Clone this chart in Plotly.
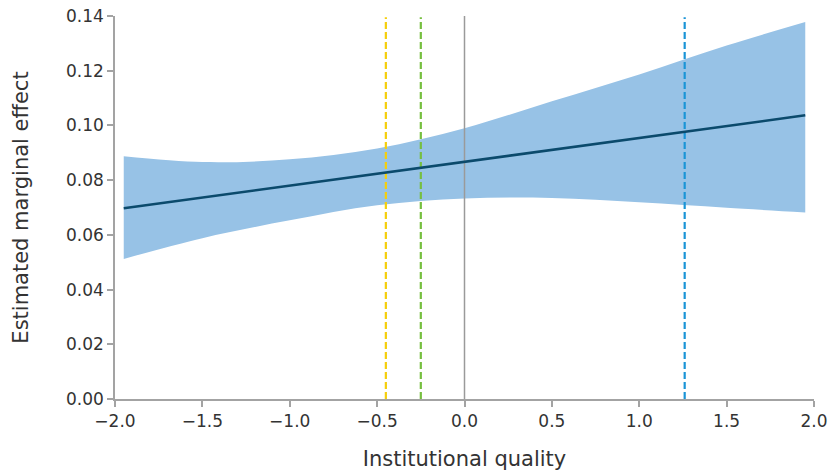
import plotly.graph_objects as go

# Data
x_pts = [-1.95, -1.5, -1.0, -0.5, 0.0, 0.5, 1.0, 1.5, 1.95]
upper = [0.0887, 0.0866, 0.0876, 0.0916, 0.0990, 0.1088, 0.1186, 0.1292, 0.1378]
lower = [0.0512, 0.0588, 0.0653, 0.0708, 0.0733, 0.0735, 0.0719, 0.0699, 0.0682]
effect_x = [-1.95, 1.95]
effect_y = [0.0697, 0.1037]

ref_x = [-0.45, -0.25, 1.26]
ref_colors = ["#f5cf0c", "#76bf3f", "#1a94d6"]
zero_x = 0.0

x_ticks = [-2.0, -1.5, -1.0, -0.5, 0.0, 0.5, 1.0, 1.5, 2.0]
x_tick_text = ["\u22122.0", "\u22121.5", "\u22121.0", "\u22120.5", "0.0", "0.5", "1.0", "1.5", "2.0"]
y_ticks = [0.0, 0.02, 0.04, 0.06, 0.08, 0.10, 0.12, 0.14]
y_tick_text = ["0.00", "0.02", "0.04", "0.06", "0.08", "0.10", "0.12", "0.14"]

FONT = "DejaVu Sans"
AX = "#a3a3a3"
TXT = "#333333"

fig = go.Figure()
fig.add_trace(go.Scatter(x=x_pts, y=lower, mode="lines", line=dict(width=0, shape="spline"),
                         hoverinfo="skip", showlegend=False))
fig.add_trace(go.Scatter(x=x_pts, y=upper, mode="lines", line=dict(width=0, shape="spline"),
                         fill="tonexty", fillcolor="#97c2e6", hoverinfo="skip", showlegend=False))

fig.add_trace(go.Scatter(x=[zero_x, zero_x], y=[0, 0.14], mode="lines",
                         line=dict(color="#9a9a9a", width=1.5), showlegend=False))
for xv, c in zip(ref_x, ref_colors):
    fig.add_trace(go.Scatter(x=[xv, xv], y=[0, 0.1395], mode="lines",
                             line=dict(color=c, width=2.2, dash="7px,3px"), showlegend=False))

fig.add_trace(go.Scatter(x=effect_x, y=effect_y, mode="lines",
                         line=dict(color="#0b4a6c", width=2.6), showlegend=False))

fig.update_layout(
    width=835, height=471,
    margin=dict(l=115, r=21, t=16, b=72),
    paper_bgcolor="white", plot_bgcolor="white",
    font=dict(family=FONT, color=TXT, size=17),
    showlegend=False,
)
fig.update_xaxes(
    range=[-2, 2], tickvals=x_ticks, ticktext=x_tick_text, automargin=False,
    ticklabeloverflow="allow",
    showgrid=False, zeroline=False, showline=True, linecolor=AX, linewidth=1.5,
    ticks="outside", ticklen=6, tickcolor=AX, tickwidth=1.5,
    tickfont=dict(size=17, color=TXT),
    title=dict(text="Institutional quality", font=dict(size=21, color=TXT), standoff=24),
)
fig.update_yaxes(
    range=[0, 0.14], tickvals=y_ticks, ticktext=y_tick_text, automargin=False,
    ticklabeloverflow="allow",
    showgrid=False, zeroline=False, showline=True, linecolor=AX, linewidth=1.5,
    ticks="outside", ticklen=6, tickcolor=AX, tickwidth=1.5,
    tickfont=dict(size=17, color=TXT),
    title=dict(text="Estimated marginal effect", font=dict(size=21, color=TXT), standoff=32),
)

# remove the default page margin so the figure fills the window exactly
fig.write_html("out.html", config={"displayModeBar": False},
               post_script="document.body.style.margin='0';")
